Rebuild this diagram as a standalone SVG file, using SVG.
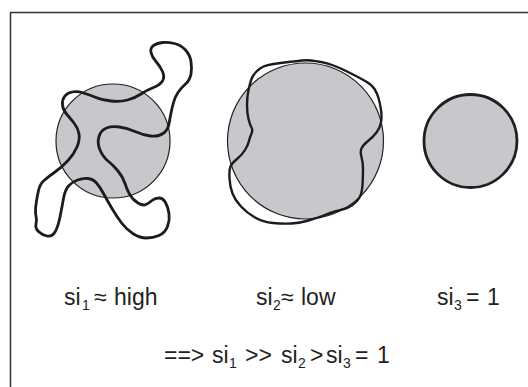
<svg xmlns="http://www.w3.org/2000/svg" width="528" height="387" viewBox="0 0 528 387">
<style>
.ball{fill:#c6c8cb;stroke:#231f20;stroke-width:1.2}
.thick{stroke-width:2.8}
.chain{fill:none;stroke:#1c1c1c;stroke-width:2.8;stroke-linejoin:round;stroke-linecap:round}
.thin{stroke-width:2.4}
.lbl{font-family:"Liberation Sans",Arial,sans-serif;font-size:23px;fill:#231f20}
.sub{font-size:14px}
</style>
<rect x="10.5" y="12.5" width="540" height="400" fill="none" stroke="#333" stroke-width="1.5"/>
<g id="coil1">
<circle class="ball" cx="113" cy="141" r="57"/>
<path class="chain" d="M99,136.5 Q97,143 100,150 Q103,157 108,161 Q113,165 118,171 Q123,177 125,183.5 Q127,190 130,195 Q133,200 138,203 Q143,206 146,204.5 Q149,203 152,200.5 Q155,198 159,198 Q163,198 165.5,202.5 Q168,207 169,213.5 Q170,220 167.5,226.5 Q165,233 159,235.5 Q153,238 146.5,238 Q140,238 133.5,234 Q127,230 122,223.5 Q117,217 112,208.5 Q107,200 103.5,193.5 Q100,187 96.5,183 Q93,179 88,178.5 Q83,178 77.5,180 Q72,182 68.5,186 Q65,190 63.5,198.5 Q62,207 60,217 Q58,227 55,232 Q52,237 47,236 Q42,235 38.5,231.5 Q35,228 36,224 Q37,220 36,216 Q35,212 36,204.5 Q37,197 38.5,190.5 Q40,184 44,180.5 Q48,177 55,172 Q62,167 68,160.5 Q74,154 77,147 Q80,140 79,134 Q78,128 74,123 Q70,118 66.5,114 Q63,110 62.5,105 Q62,100 64.5,96.5 Q67,93 72,92 Q77,91 83.5,93 Q90,95 96,97.5 Q102,100 111,101 Q120,102 127.5,100 Q135,98 141,94 Q147,90 153.5,87.5 Q160,85 162.5,81 Q165,77 162.5,71.5 Q160,66 156,61.5 Q152,57 151,52.5 Q150,48 153.5,45.5 Q157,43 162.5,42.5 Q168,42 174.5,43.5 Q181,45 185.5,50 Q190,55 191,61.5 Q192,68 191,74 Q190,80 185.5,84 Q181,88 178,92.5 Q175,97 173.5,102.5 Q172,108 171,113 Q170,118 169,124 Q168,130 163,133.5 Q158,137 150.5,136 Q143,135 135,131.5 Q127,128 119.5,127 Q112,126 106.5,128 Q101,130 99,136.5 Z"/>
</g>
<g id="coil2">
<circle class="ball" cx="305.5" cy="141" r="78"/>
<path class="chain thin" d="M251.5,79 Q250,83 248.5,90 Q247,97 247,105 Q247,113 248.5,119 Q250,125 251.5,127.5 Q253,130 251.5,133.5 Q250,137 249,141 Q248,145 245,150 Q242,155 237,159 Q232,163 230.5,166.5 Q229,170 229.5,178.5 Q230,187 232.5,193.5 Q235,200 241,206.5 Q247,213 255,217.5 Q263,222 273,223 Q283,224 291.5,223.5 Q300,223 308.5,220.5 Q317,218 323.5,215.5 Q330,213 335,211.5 Q340,210 344,209 Q348,208 352.5,205 Q357,202 359.5,197.5 Q362,193 362.5,185 Q363,177 363,169.5 Q363,162 361.5,157 Q360,152 361.5,148.5 Q363,145 368,141 Q373,137 376.5,132.5 Q380,128 381,122.5 Q382,117 381,110 Q380,103 378.5,98 Q377,93 374.5,89 Q372,85 366,81.5 Q360,78 355,75.5 Q350,73 345,70.5 Q340,68 333.5,65.5 Q327,63 321,62 Q315,61 311,60.5 Q307,60 302,60.5 Q297,61 288.5,62 Q280,63 273.5,64 Q267,65 263.5,66.5 Q260,68 256.5,71.5 Q253,75 251.5,79 Z"/>
</g>
<g id="sphere">
<circle class="ball thick" cx="470.5" cy="141" r="46.5"/>
</g>
<g id="labels">
<text class="lbl" y="305"><tspan x="64">si</tspan><tspan class="sub" x="82" dy="5">1</tspan><tspan x="94" dy="-5">≈</tspan><tspan x="114">high</tspan></text>
<text class="lbl" y="305"><tspan x="256">si</tspan><tspan class="sub" x="273" dy="5">2</tspan><tspan x="281" dy="-5">≈</tspan><tspan x="301">low</tspan></text>
<text class="lbl" y="305"><tspan x="437">si</tspan><tspan class="sub" x="454" dy="5">3</tspan><tspan x="466" dy="-5">=</tspan><tspan x="487">1</tspan></text>
<text class="lbl" y="363"><tspan x="164">==&gt;</tspan><tspan x="212">si</tspan><tspan class="sub" x="229" dy="5">1</tspan><tspan x="245" dy="-5">&gt;&gt;</tspan><tspan x="281">si</tspan><tspan class="sub" x="298" dy="5">2</tspan><tspan x="310" dy="-5">&gt;</tspan><tspan x="326">si</tspan><tspan class="sub" x="343" dy="5">3</tspan><tspan x="355" dy="-5">=</tspan><tspan x="377">1</tspan></text>
</g>
</svg>
